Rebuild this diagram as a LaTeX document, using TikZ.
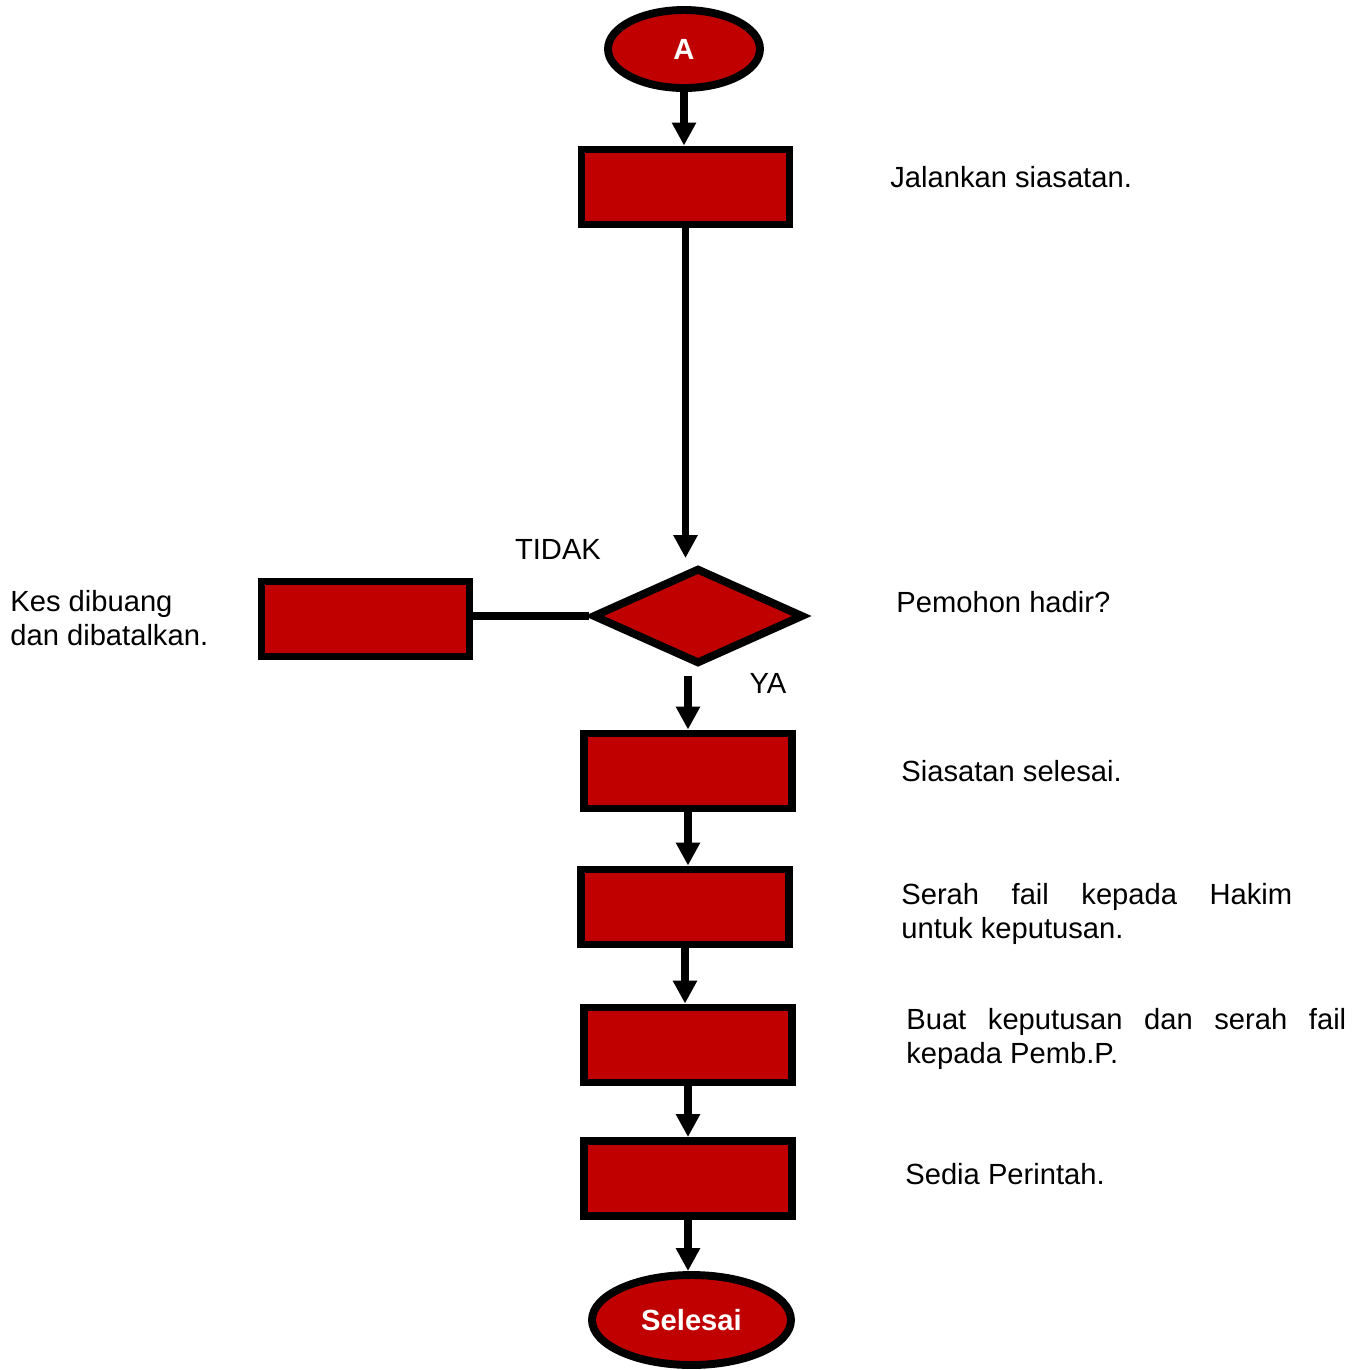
\documentclass[tikz,border=0pt]{standalone}
\usepackage{fontspec}
\setmainfont{Liberation Sans}
\usepackage{tikz}
\usetikzlibrary{
  shapes.geometric,
  arrows.meta
}
\usepackage{xcolor}
\definecolor{flowred}{HTML}{C00000}
\newcommand{\flowfont}{\fontsize{16.6pt}{19.35pt}\selectfont}
\tikzset{
  stepbox/.style={
    rectangle, draw=black, fill=flowred,
    minimum width=4.16cm, minimum height=1.5cm,
    inner sep=0pt, line width=4.5pt
  },
  terminal/.style={
    ellipse, draw=black, fill=flowred, inner sep=0pt,
    font=\flowfont\bfseries, text=white, line width=4.5pt
  },
  decision/.style={
    diamond, draw=black, fill=flowred, inner sep=0pt,
    minimum width=4.22cm, minimum height=1.92cm, line width=4.5pt
  },
  arrow/.style={-{Triangle[length=0.46cm, width=0.46cm]}, line width=4pt},
  link/.style={line width=4.5pt},
  note/.style={anchor=base west, inner sep=0pt, align=left, font=\flowfont},
  answer/.style={anchor=base, inner sep=0pt, font=\flowfont},
}

\begin{document}
\begin{tikzpicture}[x=0.02cm, y=-0.02cm]
\useasboundingbox (0,0) rectangle (1365,1370);

\node[terminal, minimum width=3.04cm, minimum height=1.56cm] (start) at (684,49) {A};
\node[stepbox] (run) at (685.5,187) {};
\node[decision] (present) at (698,616) {};
\node[stepbox] (dismiss) at (365.5,619) {};
\node[stepbox] (done) at (688,771) {};
\node[stepbox] (submit) at (685,907) {};
\node[stepbox] (decide) at (688,1045) {};
\node[stepbox] (order) at (688,1178.5) {};
\node[terminal, minimum width=3.98cm, minimum height=1.8cm] (finish) at (691.5,1320) {Selesai};

% Notes (multi-line: base is on the last line)
\node[note] (n-run) at (890,187) {Jalankan siasatan.};
\node[note] (n-dismiss) at (10,645) {Kes dibuang\\dan dibatalkan.};
\node[note] (n-present) at (896,612) {Pemohon hadir?};
\node[note] (n-done) at (901,781) {Siasatan selesai.};
\node[note] (n-submit) at (901,938) {\makebox[7.82cm][s]{Serah fail kepada Hakim}\\untuk keputusan.};
\node[note] (n-decide) at (906,1063) {\makebox[8.8cm][s]{Buat keputusan dan serah fail}\\kepada Pemb.P.};
\node[note] (n-order) at (905,1184) {Sedia Perintah.};

% Answers
\node[answer] (no) at (558,559) {TIDAK};
\node[answer] (yes) at (768,693) {YA};

% Arrows
\draw[arrow] (start.south) -- (start.south |- run.north);
\draw[arrow, shorten >=0.12cm] (run.south) -- (run.south |- present.north);
\draw[link] (dismiss.east |- present.west) -- (present.west);
\draw[arrow, shorten <=0.16cm] (done.north |- present.south) -- (done.north);
\draw[arrow] (done.south) -- (done.south |- submit.north);
\draw[arrow] (submit.south) -- (submit.south |- decide.north);
\draw[arrow] (decide.south) -- (decide.south |- order.north);
\draw[arrow] (order.south) -- (order.south |- finish.north);

\end{tikzpicture}
\end{document}
